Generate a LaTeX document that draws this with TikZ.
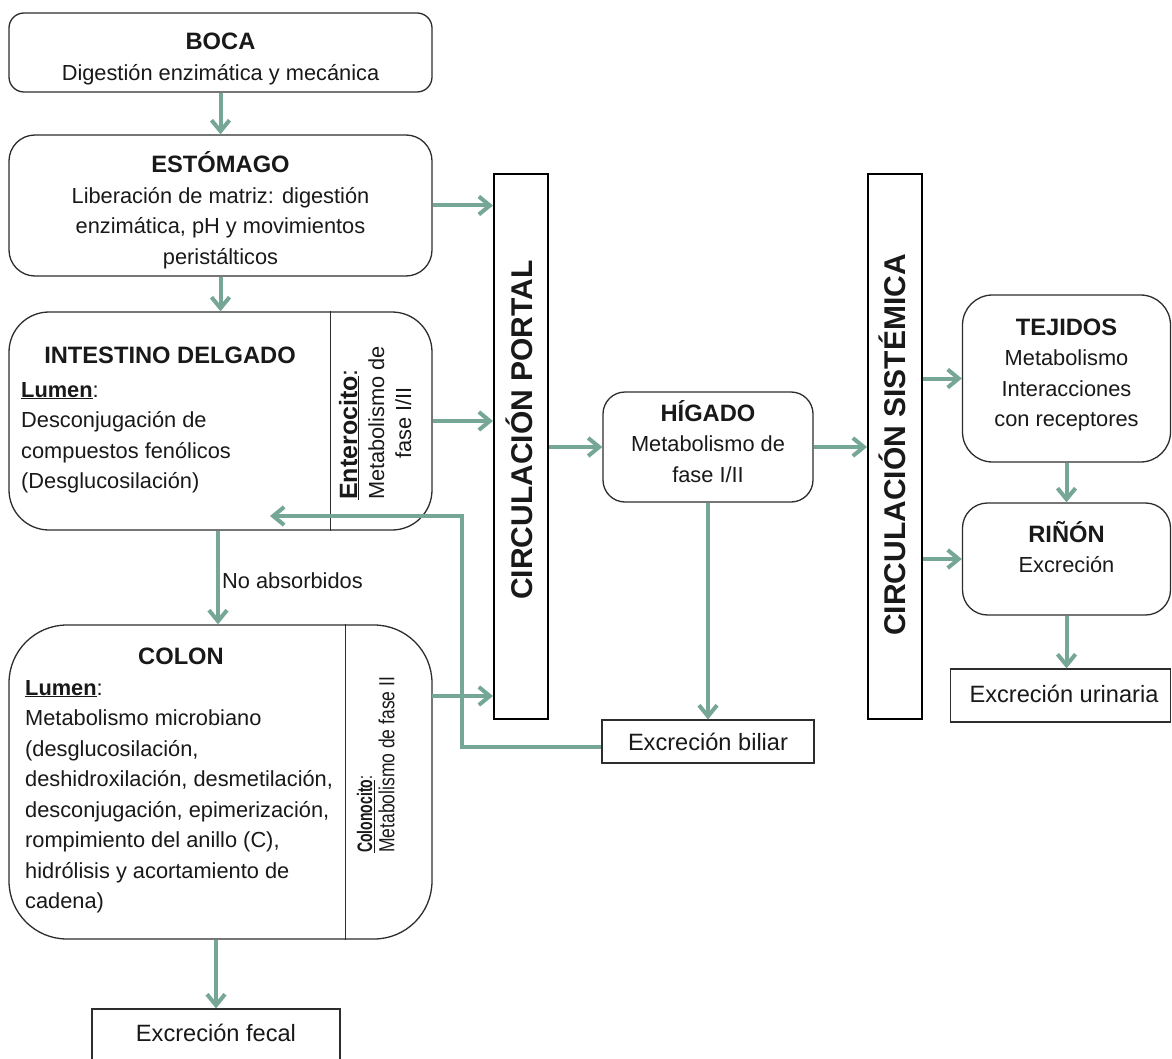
\documentclass[tikz,border=0pt]{standalone}
\usepackage{fontspec}
\usepackage{graphicx}
\setmainfont{Liberation Sans}
\usetikzlibrary{arrows.meta}
\definecolor{arr}{RGB}{118,166,150}
\definecolor{bord}{RGB}{45,45,45}
\newcommand{\mytb}[2][c]{\begin{tabular}[t]{@{}#1@{}}#2\end{tabular}}
\newcommand{\fbody}{\fontsize{21.8}{30.5}\selectfont}
\newcommand{\ftitle}{\fontsize{23.7}{30.5}\selectfont\bfseries}
\newcommand{\fexc}{\fontsize{23.6}{30}\selectfont}
\begin{document}
\begin{tikzpicture}[x=1pt,y=-1pt,
  rbox/.style={draw=bord,line width=1.3pt,inner sep=0pt},
  sbox/.style={draw=bord,line width=1.2pt,inner sep=0pt},
  cbox/.style={draw=black,line width=2pt,inner sep=0pt},
  txt/.style={anchor=base,inner sep=0pt,font=\fbody,text=black!90},
  flow/.style={draw=arr,line width=4pt,arrows={-Straight Barb[length=11pt,width=18pt]}}]
\useasboundingbox[fill=white] (0,0) rectangle (1172,1059);

% boxes
\node[rbox,rounded corners=15pt,minimum width=423pt,minimum height=79pt] (boca) at (220.5,52.5) {};
\node[rbox,rounded corners=26pt,minimum width=423pt,minimum height=141pt] (est) at (220.5,205.5) {};
\node[rbox,rounded corners=40pt,minimum width=423pt,minimum height=218pt] (int) at (220.5,421) {};
\node[rbox,rounded corners=58pt,minimum width=423pt,minimum height=314pt] (colon) at (220.5,782) {};
\node[cbox,minimum width=54pt,minimum height=545pt] (portal) at (521,446.5) {};
\node[rbox,rounded corners=22pt,minimum width=210pt,minimum height=110pt] (hig) at (708,447) {};
\node[cbox,minimum width=54pt,minimum height=545pt] (sist) at (895,446.5) {};
\node[rbox,rounded corners=30pt,minimum width=208pt,minimum height=167pt] (tej) at (1066.5,378.5) {};
\node[rbox,rounded corners=25pt,minimum width=208pt,minimum height=112pt] (rin) at (1066.5,559) {};
\node[sbox,minimum width=220pt,minimum height=53pt] (uri) at (1060.5,695.5) {};
\node[sbox,minimum width=212pt,minimum height=43pt] (bil) at (708,741.5) {};
\node[sbox,minimum width=248pt,minimum height=60pt] (fec) at (216,1039) {};

% dividers
\draw[bord,line width=1.3pt] ([xshift=-102pt]int.north east) -- ([xshift=-102pt]int.south east);
\draw[bord,line width=1.3pt] ([xshift=-87pt]colon.north east) -- ([xshift=-87pt]colon.south east);

% texts
\node[txt] (bocaT) at (220.5,50) {\mytb{{\ftitle BOCA}\\Digestión enzimática y mecánica}};
\node[txt] (estT) at (220.5,173) {\mytb{{\ftitle ESTÓMAGO}\\Liberación de matriz: digestión\\enzimática, pH y movimientos\\peristálticos}};
\node[txt] (intT) at (170,363) {\ftitle INTESTINO DELGADO};
\node[txt,anchor=base west] (intB) at (21,397) {\mytb[l]{\underline{\textbf{Lumen}}:\\Desconjugación de\\compuestos fenólicos\\(Desglucosilación)}};
\node[txt,anchor=base west,rotate=90,font=\fontsize{21.8}{27}\selectfont] (entT) at (357,500) {\mytb{\multicolumn{1}{@{}l@{}}{\fontsize{25}{27}\selectfont\underline{\textbf{Enterocito}}:}\\Metabolismo de\\fase I/II}};
\node[txt] (colT) at (181,664) {\ftitle COLON};
\node[txt,anchor=base west] (colB) at (25,695) {\mytb[l]{\underline{\textbf{Lumen}}:\\Metabolismo microbiano\\(desglucosilación,\\deshidroxilación, desmetilación,\\desconjugación, epimerización,\\rompimiento del anillo (C),\\hidrólisis y acortamiento de\\cadena)}};
\node[txt,anchor=base west,rotate=90,font=\fontsize{17.5}{22}\selectfont] (colcT) at (372,853) {\mytb[l]{\scalebox{0.8}[1.2]{\underline{\textbf{Colonocito}}:}\\\scalebox{1}[1.25]{Metabolismo de fase II}}};
\node[txt,rotate=90,font=\fontsize{30}{36}\selectfont\bfseries] (portT) at (532,430) {CIRCULACIÓN PORTAL};
\node[txt,rotate=90,font=\fontsize{30}{36}\selectfont\bfseries] (sistT) at (905,445) {CIRCULACIÓN SISTÉMICA};
\node[txt] (higT) at (708,421) {\mytb{{\ftitle HÍGADO}\\Metabolismo de\\fase I/II}};
\node[txt] (tejT) at (1066.5,335) {\mytb{{\ftitle TEJIDOS}\\Metabolismo\\Interacciones\\con receptores}};
\node[txt] (rinT) at (1066.5,542) {\mytb{{\ftitle RIÑÓN}\\Excreción}};
\node[txt,font=\fexc] (bilT) at (708,750) {Excreción biliar};
\node[txt,font=\fexc] (uriT) at (1064,702) {Excreción urinaria};
\node[txt,font=\fexc] (fecT) at (216,1041) {Excreción fecal};
\node[txt,anchor=base west] (noabs) at (222,588) {No absorbidos};

% connectors
\coordinate (colout) at (432,696);
\coordinate (retcorner) at (462,516);
\coordinate (retend) at (270,516);
\draw[flow] (boca.south) -- (est.north);
\draw[flow] (est.south) -- (int.north);
\draw[flow] (est.east) -- (est.east -| portal.west);
\draw[flow] (int.east) -- (int.east -| portal.west);
\draw[flow] ([xshift=-2.5pt]int.south) -- ([xshift=-2.5pt]colon.north);
\draw[flow] (colout) -- (colout -| portal.west);
\draw[flow] (colon.south -| fec.north) -- (fec.north);
\draw[flow] (hig.west -| portal.east) -- (hig.west);
\draw[flow] (hig.east) -- (hig.east -| sist.west);
\draw[flow] (hig.south) -- (bil.north);
\draw[flow] ([yshift=-5.5pt]bil.west) -| (retcorner) -- (retend);
\draw[flow] (tej.west -| sist.east) -- (tej.west);
\draw[flow] (rin.west -| sist.east) -- (rin.west);
\draw[flow] (tej.south) -- (rin.north);
\draw[flow] (rin.south) -- (rin.south |- uri.north);
\end{tikzpicture}
\end{document}
